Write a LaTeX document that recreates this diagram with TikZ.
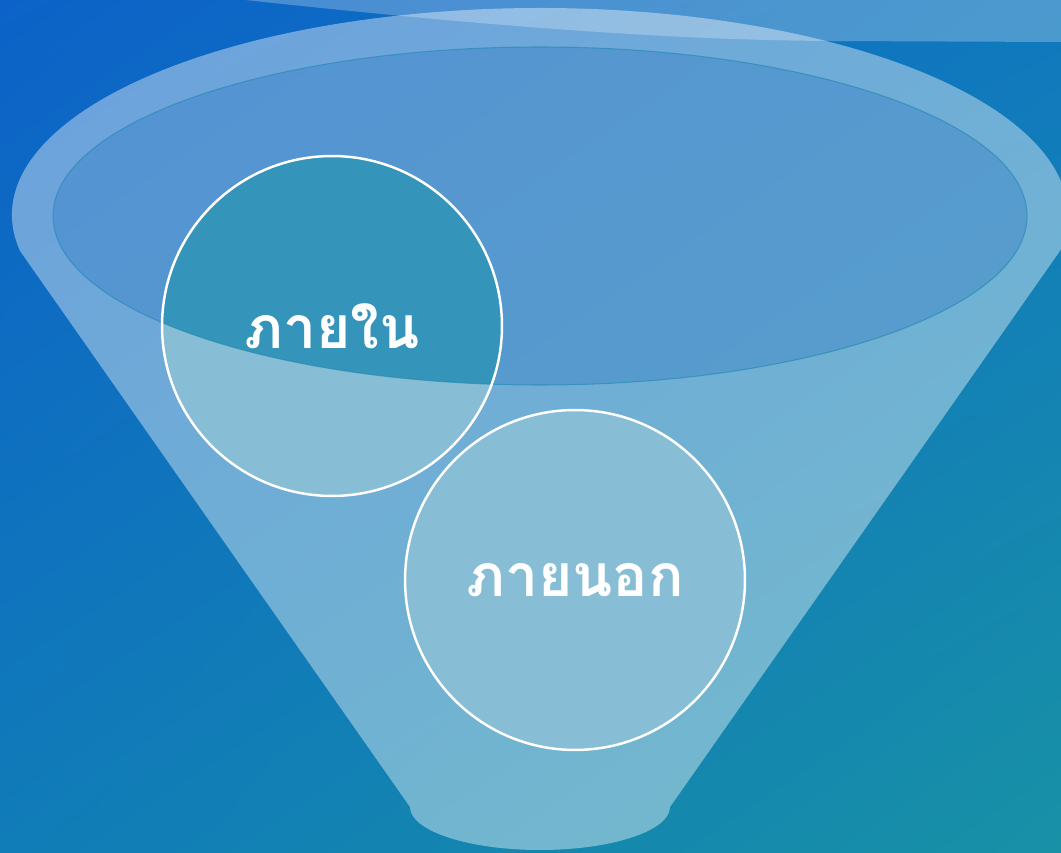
\documentclass[tikz,border=0pt]{standalone}
\usepackage{fontspec}
\newfontfamily\thaifont[Script=Thai]{Loma}
\usetikzlibrary{positioning,shadings}

\definecolor{bgtl}{RGB}{12,98,200}
\definecolor{bgtr}{RGB}{16,120,190}
\definecolor{bgbl}{RGB}{16,124,184}
\definecolor{bgbr}{RGB}{24,145,166}
\definecolor{mouthfill}{RGB}{30,110,190}
\definecolor{mouthline}{RGB}{40,140,180}
\definecolor{circfill}{RGB}{135,190,213}
\definecolor{circdark}{RGB}{53,148,185}

\begin{document}
\begin{tikzpicture}[x=0.02cm, y=0.02cm]
    \useasboundingbox (0,0) rectangle (1061,852);
    \clip (0,0) rectangle (1061,852);

    % background
    \shade[upper left=bgtl, upper right=bgtr, lower left=bgbl, lower right=bgbr] (0,0) rectangle (1061,852);

    % swoosh on top
    \fill[white, opacity=0.25] (245,852) .. controls (450,830) and (650,812) .. (830,811) -- (1061,810) -- (1061,852) -- cycle;

    % funnel body
    \fill[white, opacity=0.4] (540,637) ++(190:528 and 207)
        arc[start angle=190, end angle=-10, x radius=528, y radius=207]
        -- (670,45) arc[start angle=0, end angle=-180, x radius=130, y radius=43] -- cycle;

    % mouth of the funnel
    \fill[mouthfill, opacity=0.3] (540,636) ellipse [x radius=487, y radius=169];

    % circle fills
    \fill[circfill] (332,526) circle[radius=170];
    \fill[circfill] (575,272) circle[radius=170];
    \begin{scope}
        \clip (540,636) ellipse [x radius=487, y radius=169];
        \fill[circdark] (332,526) circle[radius=170];
    \end{scope}
    \draw[mouthline, opacity=0.7, line width=0.6pt] (540,636) ellipse [x radius=487, y radius=169];

    \begin{scope}[every node/.style={circle, draw=white, line width=1.4pt, minimum size=6.8cm, text=white, font=\thaifont\bfseries\fontsize{33.5}{38}\selectfont}]
        \node (inner) at (332,526) {ภายใน};
        \node (outer) at (575,272) {ภายนอก};
    \end{scope}
\end{tikzpicture}
\end{document}
